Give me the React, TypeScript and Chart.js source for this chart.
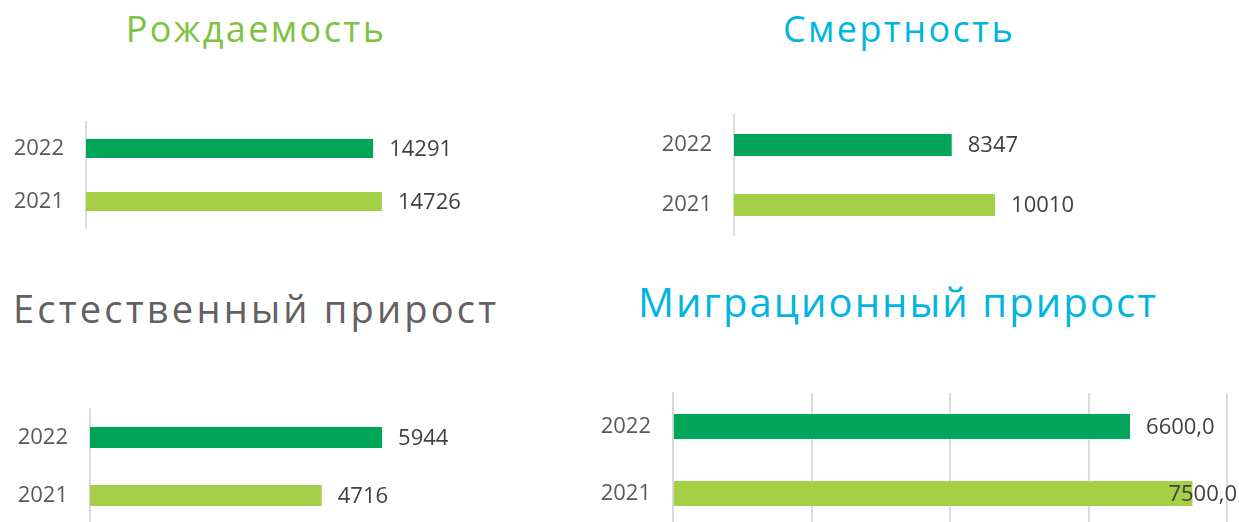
import React, { useEffect, useRef } from 'react';
import { Chart, registerables } from 'chart.js';

Chart.register(...registerables);

// ---- data ----
const years = ['2022', '2021'];
const birthValues = [14291, 14726];
const deathValues = [8347, 10010];
const naturalValues = [5944, 4716];
const migrationValues = [6600, 7500];
const migrationTicks = [0, 2000, 4000, 6000, 8000];

const titleBirth = 'Рождаемость';
const titleDeath = 'Смертность';
const titleNatural = 'Естественный прирост';
const titleMigration = 'Миграционный прирост';

// ---- styles ----
const FONT = "'Open Sans', 'Noto Sans', sans-serif";
const barColors = ['#00A55A', '#A5CF46'];
const GREEN_TITLE = '#7DC242';
const CYAN_TITLE = '#00B5E2';
const GRAY_TITLE = '#616161';
const AXIS_COLOR = '#D9D9D9';
const TICK_COLOR = '#595959';
const LABEL_COLOR = '#404040';

type PanelCfg = {
  title: string;
  titleColor: string;
  titleSize: number;
  titleSpacing: number;
  titleBaseline: number;
  titleLeft?: number;
  titleCenter?: number;
  values: number[];
  decimals: number;
  max: number;
  gridTicks?: number[];
  box: { left: number; top: number; width: number; height: number };
  axisX: number;
  plotRight: number;
  chartTop: number;
  chartBottom: number;
  barPct: number;
};

const panels: PanelCfg[] = [
  {
    title: titleBirth, titleColor: GREEN_TITLE, titleSize: 36, titleSpacing: 2.4, titleBaseline: 43, titleCenter: 256,
    values: birthValues, decimals: 0, max: 16000,
    box: { left: 0, top: 100, width: 490, height: 145 },
    axisX: 86, plotRight: 407.5, chartTop: 122, chartBottom: 228, barPct: 0.36,
  },
  {
    title: titleDeath, titleColor: CYAN_TITLE, titleSize: 36, titleSpacing: 2.4, titleBaseline: 43, titleCenter: 899,
    values: deathValues, decimals: 0, max: 12000,
    box: { left: 620, top: 100, width: 490, height: 145 },
    axisX: 734, plotRight: 1047, chartTop: 115, chartBottom: 235, barPct: 0.367,
  },
  {
    title: titleNatural, titleColor: GRAY_TITLE, titleSize: 38, titleSpacing: 3.2, titleBaseline: 323, titleLeft: 13,
    values: naturalValues, decimals: 0, max: 7000,
    box: { left: 0, top: 395, width: 490, height: 135 },
    axisX: 90, plotRight: 434, chartTop: 408.5, chartBottom: 524.5, barPct: 0.362,
  },
  {
    title: titleMigration, titleColor: CYAN_TITLE, titleSize: 40, titleSpacing: 2.1, titleBaseline: 318, titleLeft: 638,
    values: migrationValues, decimals: 1, max: 8000, gridTicks: migrationTicks,
    box: { left: 580, top: 380, width: 659, height: 150 },
    axisX: 673, plotRight: 1227, chartTop: 393, chartBottom: 527, barPct: 0.373,
  },
];

function fmt(v: number, decimals: number) {
  return v.toFixed(decimals).replace('.', ',');
}

function makeLabelPlugin(p: PanelCfg) {
  return {
    id: 'valueLabels',
    afterDatasetsDraw(chart: any) {
      const ctx = chart.ctx;
      const meta = chart.getDatasetMeta(0);
      ctx.save();
      ctx.font = `22px ${FONT}`;
      ctx.fillStyle = LABEL_COLOR;
      ctx.textAlign = 'left';
      ctx.textBaseline = 'middle';
      meta.data.forEach((bar: any, i: number) => {
        const text = fmt(p.values[i], p.decimals);
        const w = ctx.measureText(text).width;
        let x = bar.x + 16;
        if (x + w > chart.width - 2) x = chart.width - 2 - w;
        ctx.fillText(text, x, bar.y + 1);
      });
      ctx.restore();
    },
  };
}

function Panel({ p }: { p: PanelCfg }) {
  const ref = useRef<HTMLCanvasElement | null>(null);
  useEffect(() => {
    if (!ref.current) return;
    const { box } = p;
    const chart = new Chart(ref.current, {
      type: 'bar',
      data: {
        labels: years,
        datasets: [
          {
            data: p.values,
            backgroundColor: barColors,
            borderWidth: 0,
            barPercentage: p.barPct,
            categoryPercentage: 1,
          },
        ],
      },
      options: {
        indexAxis: 'y',
        responsive: false,
        animation: false,
        devicePixelRatio: 1,
        layout: {
          padding: {
            left: 0,
            top: p.chartTop - box.top,
            bottom: box.top + box.height - p.chartBottom,
            right: box.left + box.width - p.plotRight,
          },
        },
        plugins: {
          legend: { display: false },
          tooltip: { enabled: false },
          title: { display: false },
        },
        scales: {
          x: {
            display: !!p.gridTicks,
            min: 0,
            max: p.max,
            afterBuildTicks: (scale: any) => {
              if (p.gridTicks) scale.ticks = p.gridTicks.map((v) => ({ value: v }));
            },
            grid: { display: !!p.gridTicks, color: AXIS_COLOR, lineWidth: 1.8, drawTicks: false, tickLength: 0 },
            border: { display: false },
            ticks: { display: false },
          },
          y: {
            grid: { display: false, drawTicks: false, tickLength: 0 },
            border: { display: true, color: AXIS_COLOR, width: 1.8 },
            ticks: { padding: 22, color: TICK_COLOR, font: { family: FONT, size: 22 } },
            afterFit: (scale: any) => {
              scale.width = p.axisX - box.left;
              scale.paddingTop = 0;
              scale.paddingBottom = 0;
            },
          },
        },
      } as any,
      plugins: [makeLabelPlugin(p)],
    });
    return () => chart.destroy();
  }, [p]);

  const { box } = p;
  const titleTop = p.titleBaseline - 0.888 * p.titleSize;
  const titleStyle: React.CSSProperties = {
    position: 'absolute',
    top: titleTop,
    fontFamily: FONT,
    fontSize: p.titleSize,
    lineHeight: `${p.titleSize}px`,
    letterSpacing: `${p.titleSpacing}px`,
    color: p.titleColor,
    whiteSpace: 'nowrap',
  };
  if (p.titleCenter !== undefined) {
    titleStyle.left = p.titleCenter - 300;
    titleStyle.width = 600;
    titleStyle.textAlign = 'center';
  } else {
    titleStyle.left = p.titleLeft;
  }
  return (
    <>
      <div style={titleStyle}>{p.title}</div>
      <canvas
        ref={ref}
        width={box.width}
        height={box.height}
        style={{ position: 'absolute', left: box.left, top: box.top, width: box.width, height: box.height, display: 'block' }}
      />
    </>
  );
}

export default function App() {
  return (
    <div
      style={{
        position: 'absolute',
        left: 0,
        top: 0,
        width: 1239,
        height: 522,
        overflow: 'hidden',
        background: '#ffffff',
      }}
    >
      {panels.map((p, i) => (
        <Panel key={i} p={p} />
      ))}
    </div>
  );
}
